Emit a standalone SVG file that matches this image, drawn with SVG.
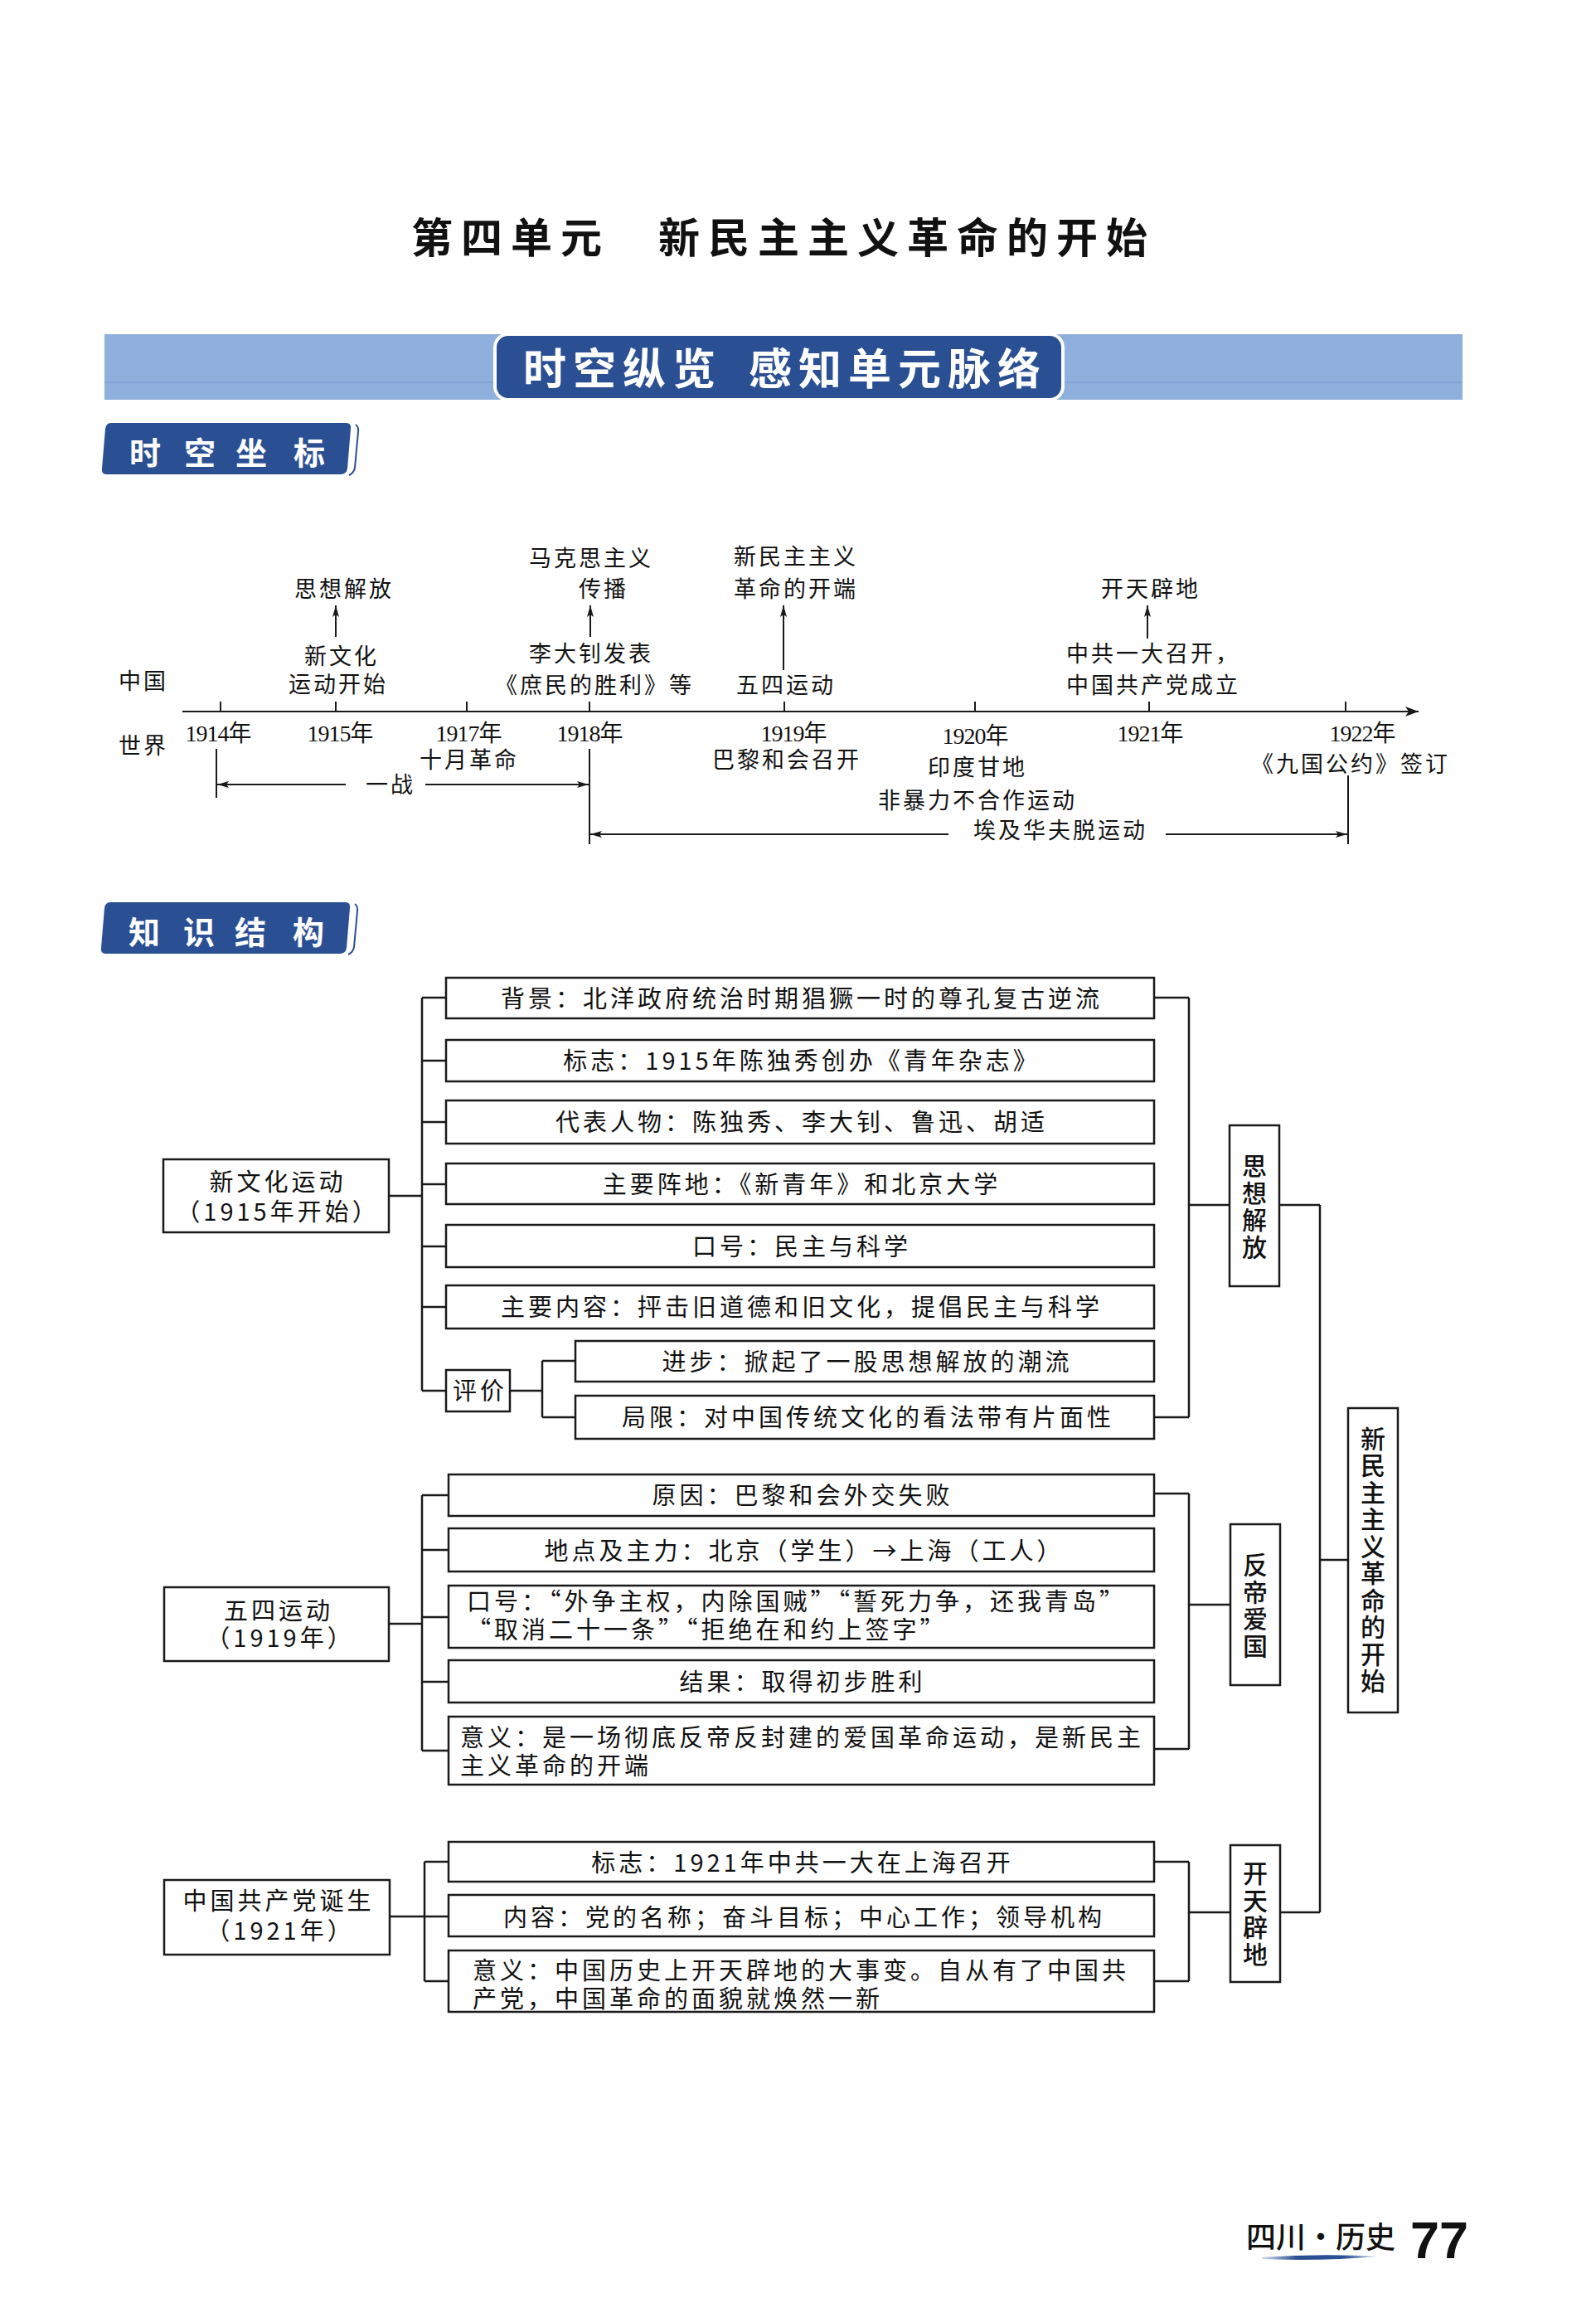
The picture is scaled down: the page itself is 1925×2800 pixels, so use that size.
<svg xmlns="http://www.w3.org/2000/svg" width="1925" height="2800" viewBox="0 0 1925 2800">
<style>
.box{fill:#fff;stroke:#1a1a1a;stroke-width:2.5}
.ln{stroke:#1a1a1a;stroke-width:2.5;fill:none}
.tln{stroke:#1a1a1a;stroke-width:2;fill:none}
.t{font-family:"Noto Sans CJK SC","Noto Sans",sans-serif;font-size:29px;letter-spacing:4px;fill:#111}
.c{text-anchor:middle}
.tl{font-size:27px;letter-spacing:3px}
.yr{font-family:"Liberation Serif","Noto Sans CJK SC",serif;font-size:28px;letter-spacing:-1px;fill:#111;text-anchor:middle}
.vt{writing-mode:vertical-rl;text-anchor:middle;font-size:30px;letter-spacing:2.5px;font-weight:500}
.lab{font-family:"Noto Sans CJK SC",sans-serif;font-size:38px;font-weight:700;fill:#fff}
.tag{fill:#2b4f93}
</style>
<defs>
<marker id="ah" viewBox="0 0 14 8" refX="14" refY="4" markerWidth="14" markerHeight="8" markerUnits="userSpaceOnUse" orient="auto"><path d="M0,0 L14,4 L0,8 L3,4 z" fill="#1a1a1a"/></marker>
<marker id="ah2" viewBox="0 0 16 12" refX="16" refY="6" markerWidth="16" markerHeight="12" markerUnits="userSpaceOnUse" orient="auto"><path d="M0,0 L16,6 L0,12 L4,6 z" fill="#1a1a1a"/></marker>
<linearGradient id="brush" x1="0" x2="1" y1="0" y2="0"><stop offset="0" stop-color="#2b4f93" stop-opacity="0.2"/><stop offset="0.3" stop-color="#2b4f93"/><stop offset="0.7" stop-color="#2b4f93"/><stop offset="1" stop-color="#2b4f93" stop-opacity="0.15"/></linearGradient>
</defs>
<rect x="0" y="0" width="1925" height="2800" fill="#fff"/>

<!-- Title -->
<g id="title">
<text x="496" y="305" style="font-family:'Noto Sans CJK SC',sans-serif;font-size:50px;font-weight:700;letter-spacing:10px;fill:#111"><tspan x="496">第四单元</tspan><tspan x="794">新民主主义革命的开始</tspan></text>
</g>

<!-- Banner -->
<g id="banner">
<rect x="126" y="403" width="1638" height="79" fill="#8fb0dd"/>
<line x1="126" y1="461" x2="1764" y2="461" stroke="#7f9fd0" stroke-width="1.5"/>
<rect x="597" y="403" width="685" height="79" rx="16" fill="#2b4f93" stroke="#fff" stroke-width="4"/>
<text y="464" style="font-family:'Noto Sans CJK SC',sans-serif;font-size:52px;font-weight:700;letter-spacing:8px;fill:#fff"><tspan x="631">时空纵览</tspan><tspan x="903">感知单元脉络</tspan></text>
</g>

<!-- Section label 1 -->
<g id="label-shikong">
<path class="tag" d="M134,510 H417 Q424,510 423,517 L419,565 Q418,572 411,572 H129 Q122,572 123,565 L127,517 Q128,510 134,510 Z"/>
<path d="M429,512 Q433,515 432,521 L428,564 Q427,570 421,573" stroke="#2b4f93" stroke-width="2" fill="none"/>
<text class="lab" y="560"><tspan x="156">时</tspan><tspan x="222">空</tspan><tspan x="284">坐</tspan><tspan x="354">标</tspan></text>
</g>

<!-- Timeline -->
<g id="timeline-axis">
<line class="tln" x1="220" y1="858" x2="1711" y2="858" stroke-width="3" marker-end="url(#ah2)"/>
<path class="tln" d="M266,846V858 M405,846V858 M563,846V858 M711,846V858 M946,846V858 M1176,846V858 M1386,846V858 M1623,846V858"/>
</g>
<g id="timeline-years">
<text class="yr" x="263" y="894">1914年</text>
<text class="yr" x="410" y="894">1915年</text>
<text class="yr" x="565" y="894">1917年</text>
<text class="yr" x="711" y="894">1918年</text>
<text class="yr" x="957" y="894">1919年</text>
<text class="yr" x="1176" y="897">1920年</text>
<text class="yr" x="1387" y="894">1921年</text>
<text class="yr" x="1643" y="894">1922年</text>
</g>
<g id="timeline-china">
<text class="t tl c" x="173" y="831">中国</text>
<text class="t tl c" x="173" y="909">世界</text>
<text class="t tl c"><tspan x="412" y="801">新文化</tspan><tspan x="408" y="835">运动开始</tspan></text>
<text class="t tl c" x="415" y="720">思想解放</text>
<text class="t tl c"><tspan x="713" y="798">李大钊发表</tspan><tspan x="717" y="836">《庶民的胜利》等</tspan></text>
<text class="t tl c"><tspan x="713" y="683">马克思主义</tspan><tspan x="728" y="720">传播</tspan></text>
<text class="t tl c"><tspan x="960" y="681">新民主主义</tspan><tspan x="960" y="720">革命的开端</tspan></text>
<text class="t tl c" x="948" y="836">五四运动</text>
<text class="t tl c" x="1388" y="720">开天辟地</text>
<text class="t tl"><tspan x="1286" y="798">中共一大召开，</tspan><tspan x="1286" y="836">中国共产党成立</tspan></text>
</g>
<g id="timeline-world">
<text class="t tl c" x="566" y="926">十月革命</text>
<text class="t tl c" x="949" y="926">巴黎和会召开</text>
<text class="t tl c"><tspan x="1179" y="935">印度甘地</tspan><tspan x="1179" y="975">非暴力不合作运动</tspan></text>
<text class="t tl c" x="1629" y="931">《九国公约》签订</text>
<text class="t tl c" x="1279" y="1011">埃及华夫脱运动</text>
<text class="t tl c" x="471" y="956">一战</text>
</g>
<g id="timeline-arrows">
<line class="tln" x1="405" y1="768" x2="405" y2="730" marker-end="url(#ah)"/>
<line class="tln" x1="712" y1="768" x2="712" y2="730" marker-end="url(#ah)"/>
<line class="tln" x1="945" y1="808" x2="945" y2="730" marker-end="url(#ah)"/>
<line class="tln" x1="1384" y1="770" x2="1384" y2="730" marker-end="url(#ah)"/>
<path class="tln" d="M261,903V962 M711,903V1018 M1626,935V1018"/>
<line class="tln" x1="417" y1="946" x2="262" y2="946" marker-end="url(#ah)"/>
<line class="tln" x1="513" y1="946" x2="710" y2="946" marker-end="url(#ah)"/>
<line class="tln" x1="1144" y1="1006" x2="712" y2="1006" marker-end="url(#ah)"/>
<line class="tln" x1="1406" y1="1006" x2="1625" y2="1006" marker-end="url(#ah)"/>
</g>

<!-- Section label 2 -->
<g id="label-zhishi">
<path class="tag" transform="translate(-1,578)" d="M134,510 H417 Q424,510 423,517 L419,565 Q418,572 411,572 H129 Q122,572 123,565 L127,517 Q128,510 134,510 Z"/>
<path transform="translate(-1,578)" d="M429,512 Q433,515 432,521 L428,564 Q427,570 421,573" stroke="#2b4f93" stroke-width="2" fill="none"/>
<text class="lab" y="1138"><tspan x="155">知</tspan><tspan x="221">识</tspan><tspan x="283">结</tspan><tspan x="353">构</tspan></text>
</g>

<!-- Connectors -->
<g id="connectors" class="ln">
<path d="M469,1442H509 M509,1203V1677 M509,1203H538 M509,1279H538 M509,1353H538 M509,1428H538 M509,1503H538 M509,1576H538 M509,1677H538"/>
<path d="M615,1677H654 M654,1641V1709 M654,1641H694 M654,1709H694"/>
<path d="M1392,1203H1434 M1392,1709H1434 M1434,1203V1709 M1434,1453H1483"/>
<path d="M469,1958H509 M509,1803V2111 M509,1803H541 M509,1869H541 M509,1950H541 M509,2028H541 M509,2111H541"/>
<path d="M1392,1801H1434 M1392,2109H1434 M1434,1801V2109 M1434,1935H1484"/>
<path d="M470,2311H512 M512,2245V2389 M512,2245H541 M512,2311H541 M512,2389H541"/>
<path d="M1392,2245H1434 M1392,2389H1434 M1434,2245V2389 M1434,2306H1484"/>
<path d="M1543,1453H1592 M1592,1453V2306 M1544,2306H1592 M1592,1881H1626"/>
</g>

<!-- Section 1 nodes -->
<g id="n-xinwenhua"><rect class="box" x="197" y="1398" width="272" height="88"/>
<text class="t c"><tspan x="335" y="1436">新文化运动</tspan><tspan x="335" y="1472">（1915年开始）</tspan></text></g>
<g id="n-beijing"><rect class="box" x="538" y="1179" width="854" height="49"/><text class="t c" x="967" y="1215">背景：北洋政府统治时期猖獗一时的尊孔复古逆流</text></g>
<g id="n-biaozhi1"><rect class="box" x="538" y="1254" width="854" height="50"/><text class="t c" x="967" y="1290">标志：1915年陈独秀创办《青年杂志》</text></g>
<g id="n-daibiao"><rect class="box" x="538" y="1327" width="854" height="52"/><text class="t c" x="967" y="1364">代表人物：陈独秀、李大钊、鲁迅、胡适</text></g>
<g id="n-zhendi"><rect class="box" x="538" y="1403" width="854" height="49"/><text class="t c" x="967" y="1439">主要阵地：《新青年》和北京大学</text></g>
<g id="n-kouhao1"><rect class="box" x="538" y="1477" width="854" height="51"/><text class="t c" x="967" y="1514">口号：民主与科学</text></g>
<g id="n-neirong1"><rect class="box" x="538" y="1550" width="854" height="52"/><text class="t c" x="967" y="1587">主要内容：抨击旧道德和旧文化，提倡民主与科学</text></g>
<g id="n-pingjia"><rect class="box" x="538" y="1652" width="77" height="50"/><text class="t c" x="579" y="1688">评价</text></g>
<g id="n-jinbu"><rect class="box" x="694" y="1617" width="698" height="49"/><text class="t c" x="1046" y="1653">进步：掀起了一股思想解放的潮流</text></g>
<g id="n-juxian"><rect class="box" x="694" y="1683" width="698" height="52"/><text class="t c" x="1047" y="1720">局限：对中国传统文化的看法带有片面性</text></g>

<!-- Section 2 nodes -->
<g id="n-wusi"><rect class="box" x="198" y="1914" width="271" height="89"/>
<text class="t c"><tspan x="336" y="1953">五四运动</tspan><tspan x="338" y="1986">（1919年）</tspan></text></g>
<g id="n-yuanyin"><rect class="box" x="541" y="1778" width="851" height="50"/><text class="t c" x="968" y="1814">原因：巴黎和会外交失败</text></g>
<g id="n-didian"><rect class="box" x="541" y="1843" width="851" height="52"/><text class="t c" x="970" y="1881">地点及主力：北京（学生）→上海（工人）</text></g>
<g id="n-kouhao2"><rect class="box" x="541" y="1912" width="851" height="75"/><text class="t"><tspan x="563" y="1942">口号：“外争主权，内除国贼”“誓死力争，还我青岛”</tspan><tspan x="563" y="1976">“取消二十一条”“拒绝在和约上签字”</tspan></text></g>
<g id="n-jieguo"><rect class="box" x="541" y="2002" width="851" height="51"/><text class="t c" x="968" y="2039">结果：取得初步胜利</text></g>
<g id="n-yiyi2"><rect class="box" x="541" y="2070" width="851" height="82"/><text class="t"><tspan x="555" y="2106">意义：是一场彻底反帝反封建的爱国革命运动，是新民主</tspan><tspan x="555" y="2140">主义革命的开端</tspan></text></g>

<!-- Section 3 nodes -->
<g id="n-ccp"><rect class="box" x="198" y="2267" width="272" height="90"/>
<text class="t c"><tspan x="336" y="2303">中国共产党诞生</tspan><tspan x="338" y="2339">（1921年）</tspan></text></g>
<g id="n-biaozhi3"><rect class="box" x="541" y="2221" width="851" height="48"/><text class="t c" x="968" y="2257">标志：1921年中共一大在上海召开</text></g>
<g id="n-neirong3"><rect class="box" x="541" y="2285" width="851" height="50"/><text class="t c" x="970" y="2323">内容：党的名称；奋斗目标；中心工作；领导机构</text></g>
<g id="n-yiyi3"><rect class="box" x="541" y="2352" width="851" height="74"/><text class="t"><tspan x="570" y="2387">意义：中国历史上开天辟地的大事变。自从有了中国共</tspan><tspan x="570" y="2421">产党，中国革命的面貌就焕然一新</tspan></text></g>

<!-- Right side nodes -->
<g id="n-sixiang"><rect class="box" x="1483" y="1357" width="60" height="194"/>
<text class="t vt" x="1513" y="1456">思想解放</text></g>
<g id="n-fandi"><rect class="box" x="1484" y="1838" width="60" height="194"/>
<text class="t vt" x="1514" y="1937">反帝爱国</text></g>
<g id="n-kaitian"><rect class="box" x="1484" y="2225" width="60" height="165"/>
<text class="t vt" x="1514" y="2309">开天辟地</text></g>
<g id="n-root"><rect class="box" x="1626" y="1698" width="60" height="367"/>
<text class="t vt" x="1656" y="1882">新民主主义革命的开始</text></g>

<!-- Footer -->
<g id="footer">
<path d="M1522,2722 Q1592,2717 1663,2721 Q1592,2727 1522,2724 Z" fill="url(#brush)"/>
<text x="1503" y="2711" style="font-family:'Noto Sans CJK SC',sans-serif;font-size:36px;font-weight:500;fill:#111">四川·历史</text>
<text x="1701" y="2723" style="font-family:'Liberation Sans',Arial,sans-serif;font-size:63px;font-weight:700;fill:#111">77</text>
</g>
</svg>
